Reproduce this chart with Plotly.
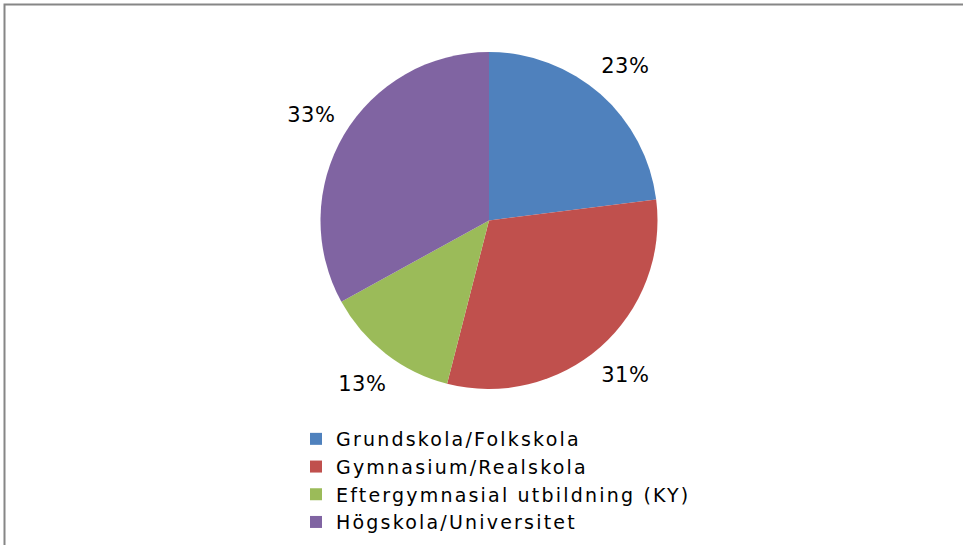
import math
import plotly.graph_objects as go

categories = ["Grundskola/Folkskola", "Gymnasium/Realskola",
              "Eftergymnasial utbildning (KY)", "Högskola/Universitet"]
values = [23, 31, 13, 33]
colors = ["#4F81BD", "#C0504D", "#9BBB59", "#8064A2"]

W, H = 963, 545
cx, cy, r = 489, 220.5, 168.5  # pie centre / radius in px
dom_x = [(cx - r) / W, (cx + r) / W]
dom_y = [1 - (cy + r) / H, 1 - (cy - r) / H]

fig = go.Figure(go.Pie(
    labels=categories, values=values, sort=False, direction="clockwise",
    rotation=0, marker=dict(colors=colors, line=dict(width=0)),
    textinfo="none", hoverinfo="label+percent",
    domain=dict(x=dom_x, y=dom_y),
))

# percentage labels placed outside, from the slice mid-angles
total = sum(values)
annotations = []
cum = 0
rl = 1.225 * r
for v in values:
    mid = (cum + v / 2) / total * 2 * math.pi
    cum += v
    px = cx + rl * math.sin(mid)
    py = cy - rl * math.cos(mid)
    annotations.append(dict(
        x=px / W, y=1 - py / H, xref="paper", yref="paper",
        text=f"{round(100 * v / total)}%", showarrow=False,
        font=dict(family="DejaVu Sans", size=21, color="#000000"),
        xanchor="center", yanchor="middle"))

fig.update_layout(
    width=W, height=H, margin=dict(l=0, r=0, t=0, b=0),
    paper_bgcolor="white", plot_bgcolor="white",
    annotations=annotations,
    showlegend=True,
    legend=dict(x=296 / W, y=1 - 420 / H, xanchor="left", yanchor="top",
                font=dict(family="DejaVu Sans", size=19, color="#000000"),
                traceorder="normal", itemwidth=30,
                bgcolor="rgba(0,0,0,0)"),
    shapes=[dict(type="rect", xref="paper", yref="paper",
                 x0=4.5 / W, x1=1.02, y0=-0.02, y1=1 - 4.5 / H,
                 line=dict(color="#868686", width=2))],
)

post = """
document.body.style.margin = '0';
var st = document.createElement('style');
st.textContent = '.legendtext{letter-spacing:2.2px;} '
  + '.legend .scrollbox{clip-path:none !important;} '
  + '.annotation-text{letter-spacing:0.5px;}';
document.head.appendChild(st);
"""
fig.write_html("out.html", post_script=post, config={"displayModeBar": False})
